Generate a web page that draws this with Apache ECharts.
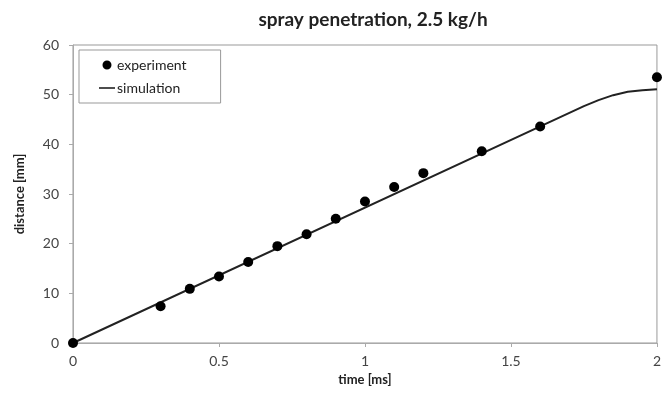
<!DOCTYPE html>
<html>
<head>
<meta charset="utf-8">
<script src="https://cdn.jsdelivr.net/npm/echarts@6/dist/echarts.min.js"></script>
<style>
  html, body { margin: 0; padding: 0; background: #fff; }
  #chart { width: 664px; height: 401px; }
</style>
</head>
<body>
<div id="chart"></div>
<script>
// measured points (time ms, distance mm)
const expTime = [0, 0.3, 0.4, 0.5, 0.6, 0.7, 0.8, 0.9, 1.0, 1.1, 1.2, 1.4, 1.6, 2.0]
const expDist = [0, 7.4, 10.9, 13.4, 16.3, 19.5, 21.9, 25.0, 28.5, 31.4, 34.2, 38.6, 43.6, 53.5]

// simulation curve
const simTime = [0, 1.75, 1.8, 1.85, 1.9, 1.95, 2.0]
const simDist = [0, 47.7, 48.9, 49.9, 50.6, 50.9, 51.1]

const xTicks = [0, 0.5, 1, 1.5, 2]
const yTicks = [0, 10, 20, 30, 40, 50, 60]

const font = 'Lato, "Open Sans", sans-serif'
const chart = echarts.init(document.getElementById('chart'))

chart.setOption({
  animation: false,
  title: {
    text: 'spray penetration, 2.5 kg/h',
    left: 368,
    top: 5,
    textAlign: 'center',
    textStyle: { fontFamily: font, fontSize: 19, fontWeight: 'bold', color: '#222' }
  },
  legend: {
    orient: 'vertical',
    left: 79,
    top: 50,
    padding: [8, 34, 8, 20],
    itemGap: 9,
    borderColor: '#999',
    borderWidth: 1,
    itemWidth: 16,
    itemHeight: 9,
    textStyle: { fontFamily: font, fontSize: 14, color: '#222', padding: [0, 0, 0, -3] },
    data: [
      { name: 'experiment', icon: 'path://M8,0 A4.5,4.5 0 1 1 7.99,0 Z M0,0 L0,0 M16,9 L16,9' },
      { name: 'simulation', icon: 'path://M0,0 L0,0 M0,3.7 L16,3.7 L16,5.3 L0,5.3 Z M16,9 L16,9' }
    ]
  },
  grid: {
    left: 73, right: 2, top: 45, bottom: 58,
    show: true, borderColor: '#999', borderWidth: 1
  },
  xAxis: {
    type: 'value',
    min: xTicks[0],
    max: xTicks[xTicks.length - 1],
    interval: 0.5,
    name: 'time [ms]',
    nameLocation: 'middle',
    nameGap: 29,
    nameTextStyle: { fontFamily: font, fontSize: 13, fontWeight: 'bold', color: '#222' },
    axisLine: { lineStyle: { color: '#aaa' } },
    axisTick: { show: true, length: 4, lineStyle: { color: '#aaa' } },
    splitLine: { show: false },
    axisLabel: { fontFamily: font, fontSize: 14, color: '#444', margin: 11 }
  },
  yAxis: {
    type: 'value',
    min: yTicks[0],
    max: yTicks[yTicks.length - 1],
    interval: 10,
    name: 'distance [mm]',
    nameLocation: 'middle',
    nameGap: 47,
    nameTextStyle: { fontFamily: font, fontSize: 13, fontWeight: 'bold', color: '#222' },
    axisLine: { show: true, lineStyle: { color: '#aaa' } },
    axisTick: { show: true, length: 4, lineStyle: { color: '#aaa' } },
    splitLine: { show: false },
    axisLabel: { fontFamily: font, fontSize: 14, color: '#444', margin: 14 }
  },
  series: [
    {
      name: 'simulation',
      type: 'line',
      data: simTime.map((t, i) => [t, simDist[i]]),
      showSymbol: false,
      symbol: 'none',
      lineStyle: { color: '#222', width: 2 },
      itemStyle: { color: '#222' },
      z: 2
    },
    {
      name: 'experiment',
      type: 'scatter',
      data: expTime.map((t, i) => [t, expDist[i]]),
      symbol: 'circle',
      symbolSize: 10,
      itemStyle: { color: '#000', opacity: 1 },
      z: 3
    }
  ]
})
</script>
</body>
</html>
